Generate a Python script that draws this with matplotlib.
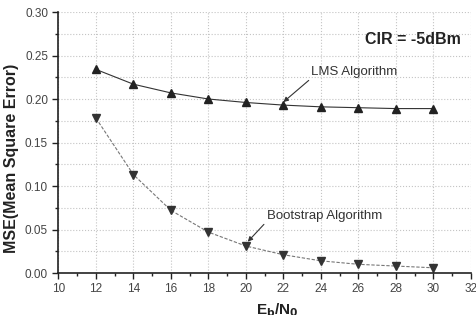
import numpy as np
import matplotlib
matplotlib.use('Agg')
from matplotlib import pyplot as plt
from matplotlib.ticker import MultipleLocator

plt.rcParams['font.family'] = ['Liberation Sans', 'DejaVu Sans']

ebno = [12, 14, 16, 18, 20, 22, 24, 26, 28, 30]
mse_lms = [0.234, 0.217, 0.207, 0.200, 0.196, 0.193, 0.191, 0.190, 0.189, 0.189]
mse_boot = [0.178, 0.113, 0.072, 0.047, 0.031, 0.021, 0.014, 0.010, 0.008, 0.006]

fig = plt.figure(figsize=(4.77, 3.15), dpi=100)
ax = fig.add_axes([0.1226, 0.1333, 0.8644, 0.8286])

ax.plot(ebno, mse_lms, '-', color='#333333', lw=0.8, marker='^', ms=6,
        mfc='#222222', mec='#222222')
ax.plot(ebno, mse_boot, '--', color='#777777', lw=0.8, marker='v', ms=6,
        mfc='#333333', mec='#333333', dashes=(3, 1.5))

ax.set_xlim(10, 32)
ax.set_ylim(0, 0.30)
ax.xaxis.set_major_locator(MultipleLocator(2))
ax.xaxis.set_minor_locator(MultipleLocator(1))
ax.yaxis.set_major_locator(MultipleLocator(0.05))
ax.yaxis.set_minor_locator(MultipleLocator(0.025))
ax.yaxis.set_major_formatter(plt.FormatStrFormatter('%.2f'))

ax.grid(True, which='major', axis='x', ls=':', color='#c4c4c4', lw=0.8)
ax.grid(True, which='both', axis='y', ls=':', color='#c4c4c4', lw=0.8)

for s in ['top', 'right']:
    ax.spines[s].set_visible(False)
for s in ['left', 'bottom']:
    ax.spines[s].set_color('#222222')
    ax.spines[s].set_linewidth(1.2)

ax.tick_params(which='major', direction='out', length=4, width=1, colors='#222222',
               labelsize=8.5, labelcolor='#444444')
ax.tick_params(which='minor', direction='out', length=2.5, width=1, colors='#222222')

ax.set_ylabel('MSE(Mean Square Error)', fontsize=11.5, fontweight='bold', color='#222222')
ax.yaxis.set_label_coords(-0.095, 0.44)
ax.set_xlabel('E$_\\mathbf{b}$/N$_\\mathbf{0}$', fontsize=11, fontweight='bold', color='#222222')
ax.xaxis.set_label_coords(0.532, -0.11)
ax.xaxis.label.set_va('top')

ax.text(0.975, 0.895, 'CIR = -5dBm', transform=ax.transAxes, ha='right', va='center',
        fontsize=11.5, fontweight='bold', color='#222222')

ax.annotate('LMS Algorithm', xy=(22.0, 0.1965), xytext=(23.5, 0.231),
            fontsize=9.5, color='#333333', ha='left', va='center',
            arrowprops=dict(arrowstyle='-|>', color='#333333', lw=0.8,
                            mutation_scale=7, shrinkA=0, shrinkB=0,
                            relpos=(0.0, 0.0)))
ax.annotate('Bootstrap Algorithm', xy=(20.1, 0.036), xytext=(21.1, 0.066),
            fontsize=9.5, color='#333333', ha='left', va='center',
            arrowprops=dict(arrowstyle='-|>', color='#333333', lw=0.8,
                            mutation_scale=7, shrinkA=0, shrinkB=0,
                            relpos=(0.0, 0.0)))

fig.savefig('out.png', dpi=100)
